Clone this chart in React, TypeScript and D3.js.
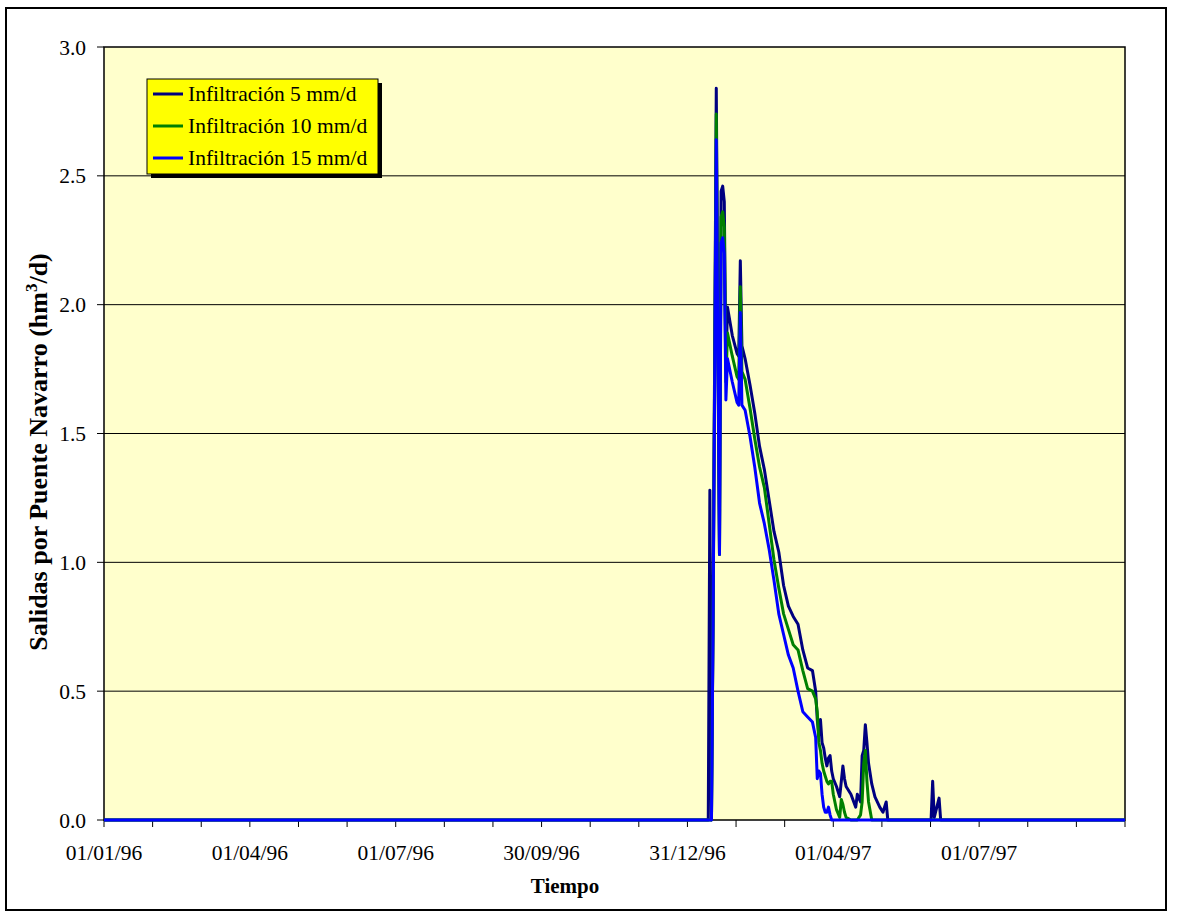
import { scaleLinear, line, range } from 'd3';

const WIDTH = 1184;
const HEIGHT = 918;
const PLOT = { left: 104, right: 1125, top: 47, bottom: 820 };
const FONT = '"Liberation Serif", "Times New Roman", serif';

// day index counted from 01/01/96
const days = [
  0, 377, 378, 379, 380, 382, 384, 385, 386, 387, 388, 389, 392, 395, 396, 397, 398, 400, 403,
  406, 409, 412, 415, 418, 421, 424, 427, 430, 433, 436, 439, 442, 444, 445, 446, 447, 448, 449,
  450, 451, 452, 453, 454, 455, 457, 459, 460, 461, 462, 463, 466, 469, 470, 472, 473, 474, 475,
  476, 477, 479, 481, 484, 486, 488, 489, 516, 517, 518, 521, 522, 637,
];

const infil5 = [
  0, 0, 1.28, 0, 0.8, 2.84, 1.03, 2.44, 2.46, 2.4, 1.75, 1.99, 1.88, 1.81, 1.8, 2.17, 1.84, 1.79, 1.69,
  1.58, 1.45, 1.36, 1.24, 1.12, 1.04, 0.91, 0.83, 0.79, 0.76, 0.66, 0.59, 0.58, 0.5, 0.39, 0.33, 0.39, 0.3, 0.28,
  0.24, 0.21, 0.24, 0.25, 0.19, 0.16, 0.13, 0.09, 0.15, 0.21, 0.16, 0.13, 0.1, 0.05, 0.1, 0.07, 0.25, 0.27, 0.37,
  0.3, 0.22, 0.14, 0.09, 0.05, 0.03, 0.07, 0, 0, 0.15, 0.01, 0.085, 0, 0,
];

const infil10 = [
  0, 0, 0, 0, 0.78, 2.74, 1.03, 2.34, 2.36, 2.3, 1.7, 1.89, 1.8, 1.72, 1.71, 2.07, 1.74, 1.71, 1.6,
  1.48, 1.37, 1.29, 1.15, 1.01, 0.9, 0.8, 0.74, 0.68, 0.66, 0.58, 0.51, 0.5, 0.47, 0.42, 0.3, 0.27, 0.22, 0.19,
  0.17, 0.15, 0.14, 0.15, 0.15, 0.1, 0.04, 0.01, 0.08, 0.06, 0.03, 0.01, 0, 0, 0, 0.02, 0.07, 0.22, 0.27,
  0.15, 0.07, 0, 0, 0, 0, 0, 0, 0, 0, 0, 0, 0, 0,
];

const infil15 = [
  0, 0, 0, 0, 0.76, 2.64, 1.03, 2.24, 2.26, 2.2, 1.63, 1.79, 1.7, 1.62, 1.61, 1.97, 1.61, 1.59, 1.49,
  1.37, 1.23, 1.15, 1.05, 0.93, 0.8, 0.72, 0.64, 0.59, 0.5, 0.42, 0.4, 0.38, 0.32, 0.16, 0.19, 0.18, 0.1, 0.05,
  0.03, 0.03, 0.05, 0.02, 0, 0, 0, 0, 0, 0, 0, 0, 0, 0, 0, 0, 0, 0, 0,
  0, 0, 0, 0, 0, 0, 0, 0, 0, 0, 0, 0, 0, 0,
];

const series = [
  { name: 'Infiltración 5 mm/d', color: '#000080', values: infil5 },
  { name: 'Infiltración 10 mm/d', color: '#008000', values: infil10 },
  { name: 'Infiltración 15 mm/d', color: '#0000FF', values: infil15 },
];

const dateLabels = ['01/01/96', '01/04/96', '01/07/96', '30/09/96', '31/12/96', '01/04/97', '01/07/97'];
const yTicks = [0, 0.5, 1, 1.5, 2, 2.5, 3];
const LAST_DAY = 637;
const TICK_COUNT = 21;

export default function App() {
  const xScale = scaleLinear().domain([0, LAST_DAY]).range([PLOT.left, PLOT.right]);
  const yScale = scaleLinear().domain([0, 3]).range([PLOT.bottom, PLOT.top]);
  const lineGen = line<number>()
    .x((_, i) => xScale(days[i]))
    .y(d => yScale(d));

  const xTicks = range(TICK_COUNT + 1).map(i => (i * LAST_DAY) / TICK_COUNT);

  return (
    <svg
      width={WIDTH}
      height={HEIGHT}
      style={{ position: 'absolute', left: 0, top: 0, background: '#fff' }}
      fontFamily={FONT}
    >
      <rect x={6} y={8} width={1160} height={902} fill="#fff" stroke="#000" strokeWidth={2} />
      <rect
        x={PLOT.left}
        y={PLOT.top}
        width={PLOT.right - PLOT.left}
        height={PLOT.bottom - PLOT.top}
        fill="#FFFFCC"
        stroke="#000"
        strokeWidth={1.5}
      />
      {yTicks.slice(1, -1).map(v => (
        <line key={v} x1={PLOT.left} x2={PLOT.right} y1={yScale(v)} y2={yScale(v)} stroke="#000" strokeWidth={1} />
      ))}

      {/* y axis */}
      {yTicks.map(v => (
        <g key={v} transform={`translate(${PLOT.left}, ${yScale(v)})`}>
          <line x1={-7} x2={0} stroke="#000" strokeWidth={1} />
          <text x={-18} dy="0.35em" textAnchor="end" fontSize={21.5}>
            {v.toFixed(1)}
          </text>
        </g>
      ))}

      {/* x axis */}
      {xTicks.map((d, i) => (
        <g key={i} transform={`translate(${xScale(d)}, ${PLOT.bottom})`}>
          <line y1={0} y2={7} stroke="#000" strokeWidth={1} />
          {i % 3 === 0 && dateLabels[i / 3] && (
            <text y={40} textAnchor="middle" fontSize={21.5}>
              {dateLabels[i / 3]}
            </text>
          )}
        </g>
      ))}

      {series.map(s => (
        <path
          key={s.name}
          d={lineGen(s.values) ?? ''}
          fill="none"
          stroke={s.color}
          strokeWidth={3}
          strokeLinejoin="round"
        />
      ))}

      <text x={565} y={893} textAnchor="middle" fontSize={21} fontWeight="bold">
        Tiempo
      </text>
      <text
        transform={`translate(47, 452) rotate(-90)`}
        textAnchor="middle"
        fontSize={26}
        fontWeight="bold"
      >
        Salidas por Puente Navarro (hm
        <tspan dy={-10} fontSize={17}>
          3
        </tspan>
        <tspan dy={10}>/d)</tspan>
      </text>

      {/* legend */}
      <g>
        <rect x={151} y={83} width={231} height={95} fill="#000" />
        <rect x={147} y={79} width={231} height={95} fill="#FFFF00" stroke="#000" strokeWidth={1} />
        {series.map((s, i) => (
          <g key={s.name} transform={`translate(153, ${94 + i * 32})`}>
            <line x1={0} x2={30} stroke={s.color} strokeWidth={3} />
            <text x={35} dy="0.33em" fontSize={21.5}>
              {s.name}
            </text>
          </g>
        ))}
      </g>
    </svg>
  );
}
